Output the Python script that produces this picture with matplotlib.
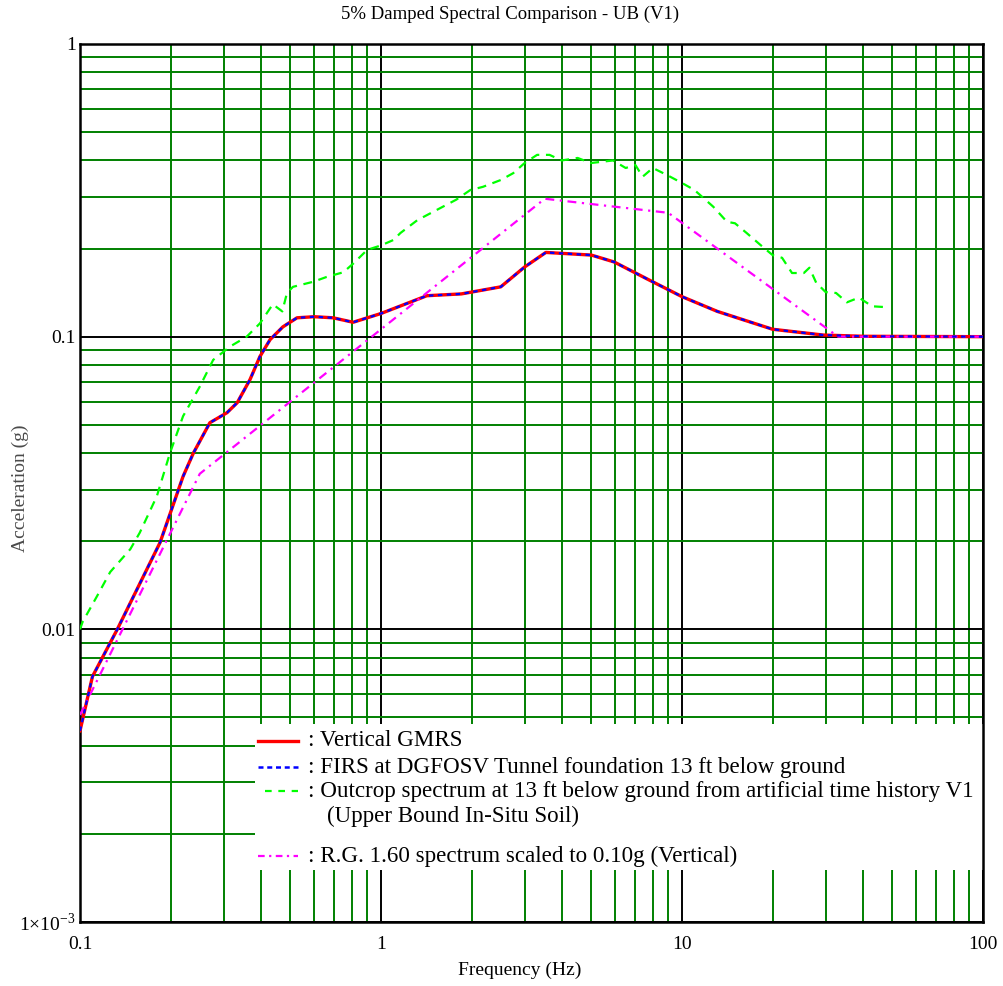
import numpy as np
import matplotlib
matplotlib.use('Agg')
import matplotlib.pyplot as plt
from matplotlib import ticker
from matplotlib.patches import Rectangle

plt.rcParams['font.family'] = ['Liberation Serif', 'DejaVu Serif']
plt.rcParams['mathtext.fontset'] = 'custom'
plt.rcParams['mathtext.rm'] = 'Liberation Serif'

# Vertical GMRS (FIRS plots right on top of it)
gmrs_freq = [0.1, 0.110, 0.133, 0.1845, 0.220, 0.238, 0.270, 0.308, 0.333, 0.367,
             0.396, 0.428, 0.472, 0.526, 0.60, 0.693, 0.808, 1.0, 1.42, 1.85, 2.5, 3.0,
             3.53, 5.0, 5.95, 7.7, 10.0, 13.1, 20.0, 29.4, 40.0, 100.0]
gmrs_acc = [0.0045, 0.0069, 0.0100, 0.0198, 0.0333, 0.040, 0.0508, 0.055, 0.0595, 0.0713,
            0.0855, 0.0977, 0.108, 0.116, 0.117, 0.116, 0.112, 0.120, 0.138, 0.140, 0.148,
            0.173, 0.194, 0.190, 0.180, 0.157, 0.137, 0.122, 0.106, 0.1013, 0.1003, 0.100]
firs_freq = gmrs_freq
firs_acc = gmrs_acc

# outcrop spectrum, artificial time history V1
outcrop_freq = [0.1, 0.102, 0.114, 0.126, 0.147, 0.158, 0.18, 0.199, 0.22, 0.25,
                0.277, 0.315, 0.358, 0.396, 0.437, 0.47, 0.487, 0.51, 0.595, 0.66,
                0.75, 0.81, 0.9, 1.0, 1.1, 1.16, 1.32, 1.49, 1.78, 1.98,
                2.18, 2.5, 2.75, 3.0, 3.3, 3.63, 3.98, 4.5, 4.98, 5.9,
                6.5, 7.0, 7.4, 8.0, 8.9, 10.0, 11.0, 12.7, 14.1, 15.0,
                16.4, 18.2, 20.0, 21.5, 23.2, 25.4, 26.5, 27.9, 30.0, 32.5,
                35.3, 38.7, 42.8, 48.5]
outcrop_acc = [0.0100, 0.0106, 0.0130, 0.0157, 0.0188, 0.0214, 0.0285, 0.040, 0.0535, 0.0675,
               0.0833, 0.0925, 0.100, 0.111, 0.129, 0.122, 0.141, 0.148, 0.154, 0.160,
               0.166, 0.178, 0.198, 0.205, 0.214, 0.226, 0.25, 0.267, 0.294, 0.317,
               0.325, 0.343, 0.362, 0.392, 0.418, 0.418, 0.400, 0.408, 0.392, 0.400,
               0.377, 0.386, 0.352, 0.377, 0.357, 0.335, 0.317, 0.278, 0.247, 0.244,
               0.226, 0.206, 0.190, 0.186, 0.165, 0.165, 0.172, 0.153, 0.142, 0.141,
               0.131, 0.136, 0.127, 0.126]

# R.G. 1.60 vertical, scaled to 0.10g
rg_freq = [0.1, 0.25, 3.5, 9.0, 33.0, 100.0]
rg_acc = [0.0051, 0.034, 0.296, 0.265, 0.100, 0.100]

x_ticks = [0.1, 1, 10, 100]
x_labels = ['0.1', '1', '10', '100']
y_ticks = [1e-3, 1e-2, 1e-1, 1]
y_labels = [r'1$\times$10$^{-3}$', '0.01', '0.1', '1']

legend_labels = [': Vertical GMRS',
                 ': FIRS at DGFOSV Tunnel foundation 13 ft below ground',
                 ': Outcrop spectrum at 13 ft below ground from artificial time history V1',
                 '(Upper Bound In-Situ Soil)',
                 ': R.G. 1.60 spectrum scaled to 0.10g (Vertical)']

W, H = 1004, 986
fig = plt.figure(figsize=(W / 100, H / 100), dpi=100)
ax = fig.add_axes([80 / W, 1 - 922 / H, 903 / W, 878 / H])
ax.set_xscale('log')
ax.set_yscale('log')
ax.set_xlim(0.1, 100)
ax.set_ylim(1e-3, 1)

ax.xaxis.set_major_locator(ticker.FixedLocator(x_ticks))
ax.xaxis.set_major_formatter(ticker.FixedFormatter(x_labels))
ax.yaxis.set_major_locator(ticker.FixedLocator(y_ticks))
ax.yaxis.set_major_formatter(ticker.FixedFormatter(y_labels))
ax.xaxis.set_minor_locator(ticker.LogLocator(base=10, subs=range(2, 10)))
ax.yaxis.set_minor_locator(ticker.LogLocator(base=10, subs=range(2, 10)))
ax.xaxis.set_minor_formatter(ticker.NullFormatter())
ax.yaxis.set_minor_formatter(ticker.NullFormatter())

ax.set_axisbelow(True)
ax.grid(which='minor', color='#008000', lw=1.4)
ax.grid(which='major', color='black', lw=1.4)
ax.tick_params(which='both', length=0, labelsize=14)
ax.tick_params(axis='x', pad=10)
ax.tick_params(axis='y', pad=3)
for s in ax.spines.values():
    s.set_linewidth(1.8)

ax.plot(gmrs_freq, gmrs_acc, color='red', lw=2.4, zorder=3)
ax.plot(firs_freq, firs_acc, color='blue', lw=1.6, dashes=(2, 2), zorder=4)
ax.plot(outcrop_freq, outcrop_acc, color='#00ff00', lw=1.6, dashes=(4, 3), zorder=3)
ax.plot(rg_freq, rg_acc, color='#ff00ff', lw=1.6, dashes=(4, 2.5, 1, 2.5), zorder=3)

# legend, white box over the lower grid
ax.add_patch(Rectangle((0.1938, 0.0592), 0.806, 0.1663, transform=ax.transAxes,
                       facecolor='white', edgecolor='none', zorder=2))
tr = ax.transAxes
ax.plot([0.197, 0.2414], [0.2062, 0.2062], transform=tr, color='red', lw=2.4, zorder=5)
ax.plot([0.197, 0.2414], [0.1765, 0.1765], transform=tr, color='blue', lw=1.8,
        dashes=(2, 1.5), zorder=5)
ax.plot([0.205, 0.2414], [0.1492, 0.1492], transform=tr, color='#00ff00', lw=1.6,
        dashes=(3, 3), zorder=5)
ax.plot([0.197, 0.2414], [0.0752, 0.0752], transform=tr, color='#ff00ff', lw=1.6,
        dashes=(3, 2, 1, 2), zorder=5)
rows = [0.2062, 0.1765, 0.1492, 0.1207, 0.0752]
xs = [0.2525, 0.2525, 0.2525, 0.2735, 0.2525]
for lab, xx, yy in zip(legend_labels, xs, rows):
    ax.text(xx, yy, lab, transform=tr, fontsize=16.6, va='center', ha='left', zorder=6)

fig.text(510 / W, 1 - 14 / H, '5% Damped Spectral Comparison - UB (V1)',
         fontsize=13.5, ha='center', va='center')
fig.text(520 / W, 1 - 970 / H, 'Frequency (Hz)', fontsize=14, ha='center', va='center')
fig.text(20 / W, 1 - 488 / H, 'Acceleration (g)', fontsize=14, color='#4a4a4a',
         rotation=90, ha='center', va='center')

fig.savefig('out.png', dpi=100)
